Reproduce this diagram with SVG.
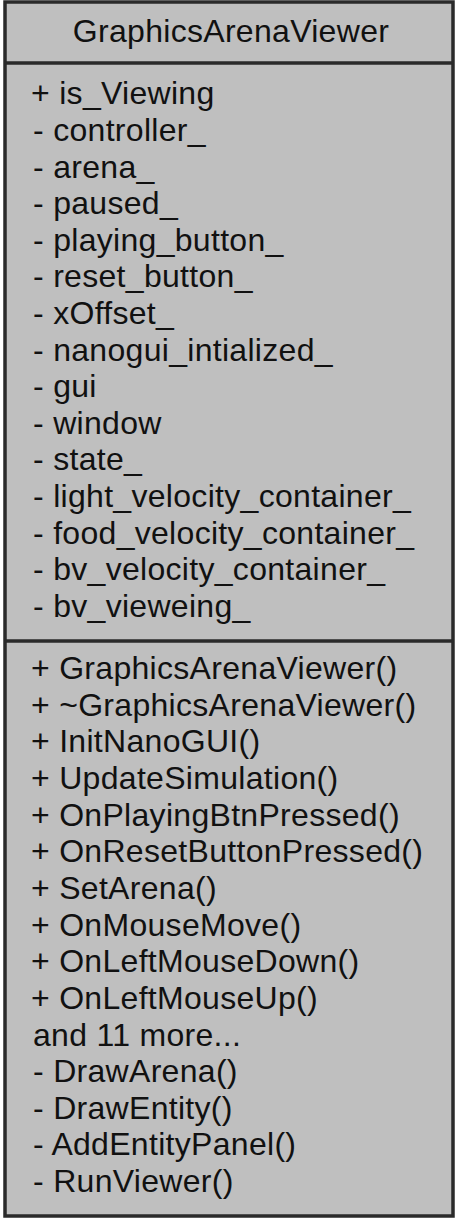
<svg xmlns="http://www.w3.org/2000/svg" width="459" height="1222" viewBox="0 0 459 1222">
<style>
.box{fill:#bfbfbf;stroke:#2a2a2a;stroke-width:3.5}
.div{stroke:#2a2a2a;stroke-width:3.5}
text{font-family:"Liberation Sans",Arial,sans-serif;font-size:32px;fill:#111;letter-spacing:0.3px}
</style>
<rect x="0" y="0" width="459" height="1222" fill="#ffffff"/>
<g id="GraphicsArenaViewer">
<rect class="box" x="5" y="2" width="448" height="1214"/>
<line class="div" x1="5" y1="63" x2="453" y2="63"/>
<line class="div" x1="5" y1="641" x2="453" y2="641"/>
<text x="231" y="42" text-anchor="middle">GraphicsArenaViewer</text>
<g id="attributes">
<text x="31" y="104">+ is_Viewing</text>
<text x="33" y="141">- controller_</text>
<text x="33" y="178">- arena_</text>
<text x="33" y="214">- paused_</text>
<text x="33" y="251">- playing_button_</text>
<text x="33" y="287">- reset_button_</text>
<text x="33" y="324">- xOffset_</text>
<text x="33" y="361">- nanogui_intialized_</text>
<text x="33" y="397">- gui</text>
<text x="33" y="434">- window</text>
<text x="33" y="470">- state_</text>
<text x="33" y="507">- light_velocity_container_</text>
<text x="33" y="544">- food_velocity_container_</text>
<text x="33" y="580">- bv_velocity_container_</text>
<text x="33" y="617">- bv_vieweing_</text>
</g>
<g id="methods">
<text x="31" y="679">+ GraphicsArenaViewer()</text>
<text x="31" y="716">+ ~GraphicsArenaViewer()</text>
<text x="31" y="752">+ InitNanoGUI()</text>
<text x="31" y="789">+ UpdateSimulation()</text>
<text x="31" y="826">+ OnPlayingBtnPressed()</text>
<text x="31" y="862">+ OnResetButtonPressed()</text>
<text x="31" y="899">+ SetArena()</text>
<text x="31" y="936">+ OnMouseMove()</text>
<text x="31" y="972">+ OnLeftMouseDown()</text>
<text x="31" y="1009">+ OnLeftMouseUp()</text>
<text x="33" y="1046">and 11 more...</text>
<text x="33" y="1082">- DrawArena()</text>
<text x="33" y="1119">- DrawEntity()</text>
<text x="33" y="1155">- AddEntityPanel()</text>
<text x="33" y="1192">- RunViewer()</text>
</g>
</g>
</svg>
